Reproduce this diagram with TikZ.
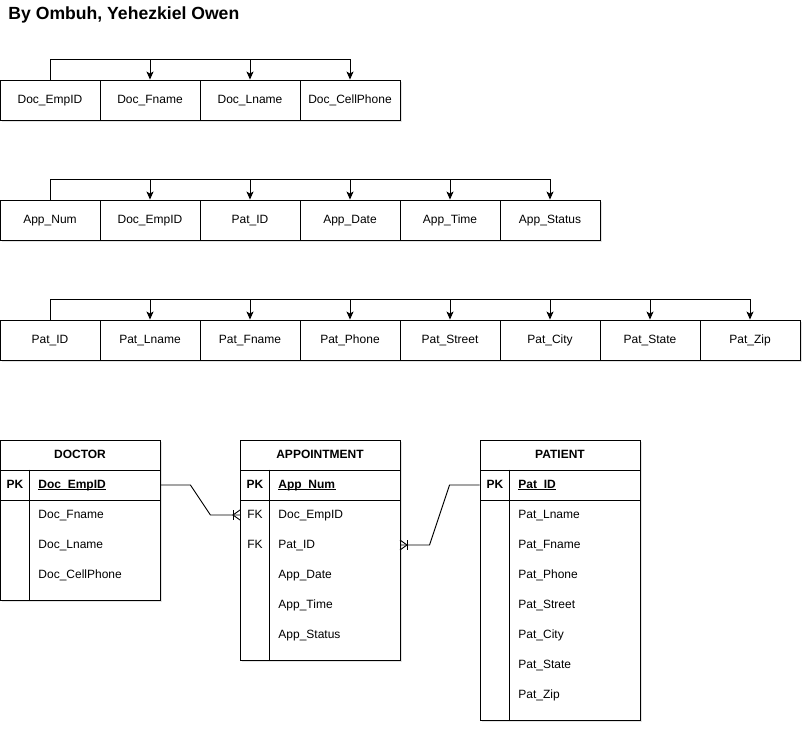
\documentclass[tikz,border=0pt]{standalone}
\usepackage{fontspec}
\setmainfont{Liberation Sans}
\usetikzlibrary{arrows.meta,shadows}

\tikzset{
  boxshadow/.style={drop shadow={opacity=0.22, shadow xshift=1.5pt, shadow yshift=-2pt}},
  txt/.style={font=\fontsize{12}{14}\selectfont, text height=8.8pt, text depth=2.6pt},
  attr/.style={draw, fill=white, minimum width=100pt, minimum height=40pt, inner sep=0pt,
    txt, boxshadow},
  fd/.style={-{Stealth[length=8pt,width=7pt,inset=2pt]}},
  enthead/.style={draw, fill=white, minimum width=160pt, minimum height=30pt, inner sep=0pt,
    txt, font=\bfseries\fontsize{12}{14}\selectfont, boxshadow},
  entrow/.style={draw, fill=white, minimum width=160pt, minimum height=30pt, inner sep=0pt, boxshadow},
  entbody/.style={draw, fill=white, minimum width=160pt, inner sep=0pt, boxshadow},
  keytxt/.style={inner sep=0pt, txt},
  fieldtxt/.style={anchor=west, inner sep=0pt, txt}
}

\begin{document}
\begin{tikzpicture}[x=1pt,y=-1pt,line width=0.9pt]

  \useasboundingbox (0,0) rectangle (812,732);

  \node[anchor=west, inner sep=0pt, font=\bfseries\fontsize{17.6}{20}\selectfont] (title) at (8,15) {By Ombuh, Yehezkiel Owen};

  \foreach \a [count=\i] in {Doc\_EmpID,Doc\_Fname,Doc\_Lname,Doc\_CellPhone}
    \node[attr] (doc\i) at (100*\i-50,100) {\a};
  \foreach \i in {2,...,4}
    \draw[fd] (doc1.north) -- ++(0,-20) -| (doc\i.north);

  \foreach \a [count=\i] in {App\_Num,Doc\_EmpID,Pat\_ID,App\_Date,App\_Time,App\_Status}
    \node[attr] (app\i) at (100*\i-50,220) {\a};
  \foreach \i in {2,...,6}
    \draw[fd] (app1.north) -- ++(0,-20) -| (app\i.north);

  \foreach \a [count=\i] in {Pat\_ID,Pat\_Lname,Pat\_Fname,Pat\_Phone,Pat\_Street,Pat\_City,Pat\_State,Pat\_Zip}
    \node[attr] (pat\i) at (100*\i-50,340) {\a};
  \foreach \i in {2,...,8}
    \draw[fd] (pat1.north) -- ++(0,-20) -| (pat\i.north);

  \foreach \ent/\x/\h/\title/\pk in {doctor/0/100/DOCTOR/Doc\_EmpID,
      appointment/240/160/APPOINTMENT/App\_Num,
      patient/480/220/PATIENT/Pat\_ID}
  {
    \node[enthead] (\ent) at (\x+80,455) {\title};
    \node[entrow] (\ent pk) at (\x+80,485) {};
    \node[entbody, minimum height=\h pt] (\ent body) at (\x+80,500+\h/2) {};
    \draw ([xshift=30pt]\ent pk.north west) -- ([xshift=30pt]\ent body.south west);
    \node[keytxt, font=\bfseries\fontsize{12}{14}\selectfont] (\ent pkkey) at (\x+15,485) {PK};
    \node[fieldtxt, font=\bfseries\fontsize{12}{14}\selectfont] (\ent pkname) at (\x+38,485) {\pk};
    \draw[line width=0.8pt] ([yshift=-1.6pt]\ent pkname.base west) -- ([yshift=-1.6pt]\ent pkname.base east);
  }

  \foreach \f [count=\i] in {Doc\_Fname,Doc\_Lname,Doc\_CellPhone}
    \node[fieldtxt] (doctorf\i) at (38,485+30*\i) {\f};

  \foreach \f [count=\i] in {Doc\_EmpID,Pat\_ID,App\_Date,App\_Time,App\_Status}
    \node[fieldtxt] (appointmentf\i) at (278,485+30*\i) {\f};
  \node[keytxt] (appointmentfk1) at (255,515) {FK};
  \node[keytxt] (appointmentfk2) at (255,545) {FK};

  \foreach \f [count=\i] in {Pat\_Lname,Pat\_Fname,Pat\_Phone,Pat\_Street,Pat\_City,Pat\_State,Pat\_Zip}
    \node[fieldtxt] (patientf\i) at (518,485+30*\i) {\f};

  \coordinate (appdocend) at (240,515);
  \coordinate (apppatend) at (400,545);

  \draw (doctorpk.east) -- ++(30,0) -- ++(20,30) -- (appdocend);
  \draw (appdocend) ++(-7,-5) -- ++(0,10);
  \draw (appdocend) ++(0,-5) -- ++(-7,5) -- ++(7,5);

  \draw (patientpk.west) -- ++(-30,0) -- ++(-20,60) -- (apppatend);
  \draw (apppatend) ++(7,-5) -- ++(0,10);
  \draw (apppatend) ++(0,-5) -- ++(7,5) -- ++(-7,5);

\end{tikzpicture}
\end{document}
